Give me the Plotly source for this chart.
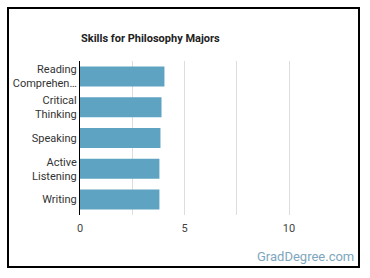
import plotly.graph_objects as go

categories = ["Reading<br>Comprehen…", "Critical<br>Thinking", "Speaking", "Active<br>Listening", "Writing"]
values = [4.04, 3.9, 3.85, 3.8, 3.8]
tick_vals = [0, 2.5, 5, 7.5, 10]
tick_text = ["0", "", "5", "", "10"]
title = "Skills for Philosophy Majors"
watermark = "GradDegree.com"

W, H = 370, 278
L, R, T, B = 80, 30, 61, 63
pw, ph = W - L - R, H - T - B

def px(x):
    return (x - L) / pw

def py(y):
    return (H - B - y) / ph

fig = go.Figure(go.Bar(
    y=categories, x=values, orientation="h",
    marker=dict(color="#5ea3c1", line=dict(width=0)),
    width=0.65,
))

fig.update_layout(
    width=W, height=H,
    margin=dict(l=L, r=R, t=T, b=B),
    paper_bgcolor="white", plot_bgcolor="white",
    showlegend=False,
    font=dict(family="Roboto", size=11, color="#333333"),
    xaxis=dict(range=[0, 12.44], tickvals=tick_vals, ticktext=tick_text,
               showgrid=True, gridcolor="#dddddd", gridwidth=1,
               zeroline=False, showline=False, ticks="",
               ticklabelstandoff=5,
               tickfont=dict(size=11, color="#444444")),
    yaxis=dict(autorange="reversed", showline=True, linecolor="#000000", linewidth=1,
               ticks="", showgrid=False, zeroline=False,
               tickfont=dict(size=11, color="#333333")),
    bargap=0.35,
    shapes=[dict(type="rect", xref="paper", yref="paper",
                 x0=px(8), x1=px(359), y0=py(267), y1=py(8),
                 line=dict(color="#000000", width=2), fillcolor="rgba(0,0,0,0)",
                 layer="above")],
    annotations=[
        dict(text="<b>" + title + "</b>", xref="paper", yref="paper",
             x=px(79), y=py(38), xanchor="left", yanchor="middle",
             showarrow=False, font=dict(family="Roboto", size=11, color="#222222")),
        dict(text=watermark, xref="paper", yref="paper",
             x=px(356), y=py(256), xanchor="right", yanchor="middle",
             showarrow=False, font=dict(family="Roboto", size=13, color="#7ea6be")),
    ],
)

fig.write_html("out.html")
